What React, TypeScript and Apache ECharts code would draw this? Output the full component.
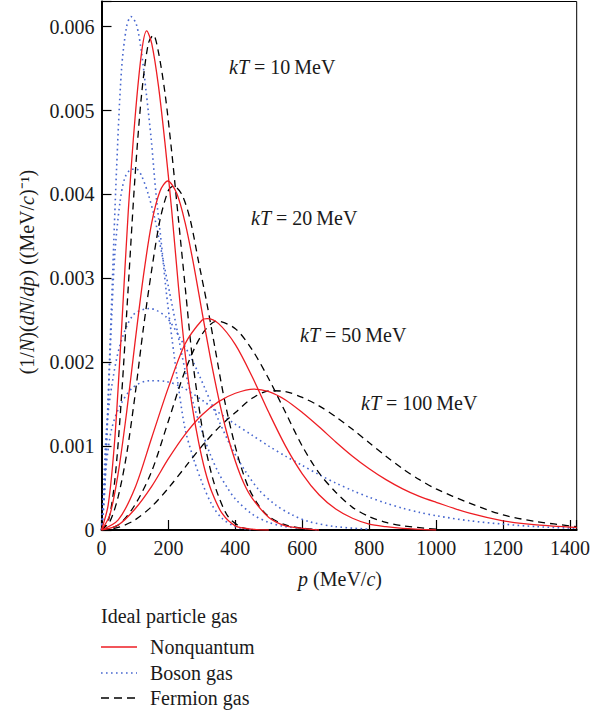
import React, { useEffect, useRef } from "react";
import * as echarts from "echarts";

// ---- data (p in MeV/c, y in (MeV/c)^-1) ----
const xTicks = [0, 200, 400, 600, 800, 1000, 1200, 1400];
const yTicks = [0, 0.001, 0.002, 0.003, 0.004, 0.005, 0.006];

// Nonquantum (red)
const pR10 = [0, 20, 40, 60, 80, 100, 120, 135, 150, 170, 190, 210, 230, 250, 270, 290, 310, 330, 360, 400, 450, 500];
const yR10 = [0, 0.0003, 0.0011, 0.0024, 0.0038, 0.0049, 0.0057, 0.00595, 0.0058, 0.0053, 0.0046, 0.0038, 0.0029, 0.0021, 0.0015, 0.00105, 0.0007, 0.00045, 0.0002, 0.00005, 0.00001, 0];
const pR20 = [0, 25, 50, 75, 100, 125, 150, 175, 198, 225, 250, 275, 300, 325, 350, 375, 400, 425, 450, 500, 550, 600, 650];
const yR20 = [0, 0.00018, 0.00068, 0.0014, 0.00223, 0.00302, 0.00366, 0.00404, 0.00416, 0.00401, 0.00366, 0.00317, 0.00261, 0.00206, 0.00157, 0.00115, 0.00082, 0.00056, 0.00038, 0.00015, 0.00005, 0.00002, 0];
const pR50 = [0, 50, 100, 150, 200, 250, 300, 316, 350, 400, 450, 500, 550, 600, 650, 700, 750, 800, 850, 900, 1000];
const yR50 = [0, 0.00012, 0.0005, 0.0011, 0.0017, 0.00222, 0.0025, 0.00252, 0.00246, 0.00221, 0.00183, 0.0014, 0.001, 0.00067, 0.00042, 0.00025, 0.00014, 0.00007, 0.00004, 0.00002, 0];
const pR100 = [0, 50, 100, 150, 200, 250, 300, 350, 400, 455, 500, 550, 600, 650, 700, 750, 800, 850, 900, 950, 1000, 1100, 1200, 1300, 1420];
const yR100 = [0, 0.00006, 0.00025, 0.00052, 0.00085, 0.00114, 0.00137, 0.00153, 0.00163, 0.00168, 0.00165, 0.00155, 0.0014, 0.00123, 0.00105, 0.00088, 0.00073, 0.0006, 0.00049, 0.0004, 0.00033, 0.0002, 0.00011, 0.00006, 0.00003];

// Boson gas (blue dotted)
const pB10 = [0, 5, 10, 20, 30, 45, 60, 75, 88, 104, 119, 134, 149, 163, 178, 193, 210, 230, 250, 275, 300, 330, 360, 400, 450];
const yB10 = [0, 0.0002, 0.0006, 0.0016, 0.0027, 0.0043, 0.0055, 0.006, 0.00612, 0.00603, 0.00571, 0.0052, 0.00464, 0.004, 0.00345, 0.00286, 0.0023, 0.0017, 0.0012, 0.00085, 0.00057, 0.0003, 0.00014, 0.00004, 0];
const pB20 = [0, 5, 10, 20, 30, 40, 55, 70, 90, 105, 120, 140, 160, 180, 200, 225, 250, 275, 300, 325, 350, 375, 400, 450, 500, 550, 600, 650];
const yB20 = [0, 0.0002, 0.0005, 0.0015, 0.0025, 0.0033, 0.0039, 0.0042, 0.0043, 0.0043, 0.00422, 0.004, 0.0037, 0.0033, 0.0029, 0.0024, 0.0019, 0.0015, 0.00118, 0.0009, 0.00068, 0.00051, 0.00037, 0.00019, 0.00009, 0.00004, 0.00002, 0];
const pB50 = [0, 5, 15, 30, 55, 94, 144, 193, 233, 272, 311, 351, 390, 430, 470, 520, 570, 620, 700, 800];
const yB50 = [0, 0.0004, 0.0012, 0.0017, 0.0022, 0.00256, 0.00264, 0.00254, 0.0023, 0.00202, 0.00167, 0.0013, 0.00097, 0.0007, 0.00048, 0.0003, 0.00018, 0.0001, 0.00004, 0.00001];
const pB100 = [0, 5, 15, 30, 55, 94, 144, 193, 242, 300, 350, 400, 450, 500, 550, 600, 650, 700, 750, 800, 850, 900, 950, 1000, 1100, 1200, 1300, 1420];
const yB100 = [0, 0.0003, 0.0008, 0.0012, 0.00148, 0.0017, 0.00178, 0.00177, 0.0017, 0.00155, 0.0014, 0.00126, 0.00113, 0.001, 0.00088, 0.00077, 0.00066, 0.00056, 0.00047, 0.00039, 0.00032, 0.00026, 0.00021, 0.00017, 0.00011, 0.00007, 0.00004, 0.00002];

// Fermion gas (black dashed)
const pF10 = [0, 20, 40, 60, 80, 100, 120, 140, 155, 170, 190, 210, 230, 250, 270, 290, 310, 330, 350, 380, 420, 470];
const yF10 = [0, 0.0001, 0.0006, 0.0016, 0.0029, 0.0042, 0.0052, 0.0058, 0.0059, 0.0057, 0.0052, 0.0045, 0.0037, 0.0029, 0.0021, 0.0015, 0.001, 0.00065, 0.0004, 0.00015, 0.00003, 0];
const pF20 = [0, 25, 50, 75, 100, 125, 150, 175, 200, 215, 240, 265, 290, 315, 340, 365, 390, 415, 440, 470, 500, 550, 600, 650];
const yF20 = [0, 0.0001, 0.0004, 0.0009, 0.0016, 0.0024, 0.0031, 0.0037, 0.00405, 0.0041, 0.004, 0.0037, 0.0032, 0.0027, 0.00215, 0.0016, 0.00115, 0.00078, 0.0005, 0.00029, 0.00016, 0.00006, 0.00002, 0];
const pF50 = [0, 50, 100, 150, 200, 250, 300, 345, 400, 450, 500, 550, 600, 650, 700, 750, 800, 850, 900, 1000];
const yF50 = [0, 0.00006, 0.0003, 0.0007, 0.0013, 0.0019, 0.00233, 0.00249, 0.0024, 0.00215, 0.0018, 0.0014, 0.001, 0.00068, 0.00045, 0.00027, 0.00016, 0.00009, 0.00005, 0.00001];
const pF100 = [0, 50, 100, 150, 200, 250, 300, 350, 400, 450, 505, 550, 600, 650, 700, 750, 800, 850, 900, 950, 1000, 1100, 1200, 1300, 1420];
const yF100 = [0, 0.00003, 0.00012, 0.00028, 0.0005, 0.00075, 0.001, 0.00122, 0.0014, 0.00157, 0.00166, 0.00165, 0.00158, 0.00148, 0.00135, 0.0012, 0.00104, 0.00088, 0.00073, 0.0006, 0.00049, 0.00032, 0.00018, 0.0001, 0.00004];

const kTLabels = ["10", "20", "50", "100"];

const FONT = '"Liberation Serif", "Times New Roman", serif';
const RED = "#ee1d23";
const BLUE = "#4767cf";
const BLACK = "#000000";

const zip = (xs: number[], ys: number[]) => xs.map((x, i) => [x, ys[i]]);

export default function App() {
  const ref = useRef<HTMLDivElement>(null);
  useEffect(() => {
    if (!ref.current) return;
    const chart = echarts.init(ref.current, undefined, { renderer: "svg" });

    const mk = (name: string, xs: number[], ys: number[], kind: "r" | "b" | "f") => ({
      name,
      type: "line",
      data: zip(xs, ys),
      symbol: "none",
      showSymbol: false,
      smooth: 0.3,
      silent: true,
      lineStyle:
        kind === "r"
          ? { color: RED, width: 1.3 }
          : kind === "b"
          ? { color: BLUE, width: 1.6, type: [1.6, 3.4] }
          : { color: BLACK, width: 1.3, type: [7, 5] },
    });

    const italic = { fontStyle: "italic", fontFamily: FONT, fontSize: 20, fill: "#1a1a1a" };
    const normal = { fontFamily: FONT, fontSize: 20, fill: "#1a1a1a" };

    const kTPos = [
      [229, 67],
      [251, 218],
      [300, 335],
      [361, 403],
    ];

    const graphic: any[] = [];
    kTLabels.forEach((v, i) => {
      graphic.push({
        type: "text",
        x: kTPos[i][0],
        y: kTPos[i][1],
        style: {
          text: `{i|kT} = ${v}\u2009MeV`,
          fontFamily: FONT,
          fontSize: 20,
          fill: "#1a1a1a",
          verticalAlign: "middle",
          align: "left",
          rich: { i: italic },
        },
      });
    });
    // axis titles
    graphic.push({
      type: "text",
      x: 340,
      y: 579,
      style: {
        text: "{i|p} (MeV/{i|c})",
        fontFamily: FONT,
        fontSize: 20,
        fill: "#1a1a1a",
        align: "center",
        verticalAlign: "middle",
        rich: { i: italic },
      },
    });
    graphic.push({
      type: "text",
      x: 27,
      y: 272,
      rotation: Math.PI / 2,
      style: {
        text: "(1/{i|N})({i|dN}/{i|dp}) ((MeV/{i|c})\u207B\u00B9)",
        fontFamily: FONT,
        fontSize: 20,
        fill: "#1a1a1a",
        align: "center",
        verticalAlign: "middle",
        rich: { i: italic },
      },
    });
    // legend
    graphic.push({
      type: "text",
      x: 101,
      y: 616,
      style: { text: "Ideal particle gas", ...normal, verticalAlign: "middle" },
    });
    const leg = [
      { label: "Nonquantum", y: 647, stroke: RED, dash: null as any, w: 1.3 },
      { label: "Boson gas", y: 673, stroke: BLUE, dash: [1.6, 3.4], w: 1.6 },
      { label: "Fermion gas", y: 698, stroke: BLACK, dash: [8, 5], w: 1.3 },
    ];
    leg.forEach((l) => {
      graphic.push({
        type: "line",
        shape: { x1: 101, y1: l.y, x2: 137, y2: l.y },
        style: { stroke: l.stroke, lineWidth: l.w, lineDash: l.dash || undefined },
      });
      graphic.push({
        type: "text",
        x: 150,
        y: l.y,
        style: { text: l.label, ...normal, verticalAlign: "middle" },
      });
    });

    chart.setOption({
      animation: false,
      backgroundColor: "#ffffff",
      grid: {
        left: 101.5,
        right: 13,
        top: 1.5,
        bottom: 187,
        show: true,
        borderColor: "#000",
        borderWidth: 1,
        backgroundColor: "transparent",
      },
      xAxis: {
        type: "value",
        min: 0,
        max: 1420,
        interval: 200,
        axisLine: { show: true, onZero: false, lineStyle: { color: "#000", width: 2 } },
        axisTick: { show: true, inside: true, length: 10, lineStyle: { color: "#000", width: 1.2 } },
        axisLabel: {
          color: "#1a1a1a",
          fontFamily: FONT,
          fontSize: 20,
          margin: 8,
          formatter: (v: number) => (xTicks.indexOf(v) >= 0 ? String(v) : ""),
        },
        splitLine: { show: false },
      },
      yAxis: {
        type: "value",
        min: 0,
        max: 0.0063,
        interval: 0.001,
        axisLine: { show: true, onZero: false, lineStyle: { color: "#000", width: 2 } },
        axisTick: { show: true, inside: true, length: 10, lineStyle: { color: "#000", width: 1.2 } },
        axisLabel: {
          color: "#1a1a1a",
          fontFamily: FONT,
          fontSize: 20,
          margin: 7,
          formatter: (v: number) => {
            const t = yTicks.find((k) => Math.abs(k - v) < 1e-9);
            if (t === undefined) return "";
            return t === 0 ? "0" : t.toFixed(3);
          },
        },
        splitLine: { show: false },
      },
      series: [
        mk("B10", pB10, yB10, "b"),
        mk("B20", pB20, yB20, "b"),
        mk("B50", pB50, yB50, "b"),
        mk("B100", pB100, yB100, "b"),
        mk("F10", pF10, yF10, "f"),
        mk("F20", pF20, yF20, "f"),
        mk("F50", pF50, yF50, "f"),
        mk("F100", pF100, yF100, "f"),
        mk("R10", pR10, yR10, "r"),
        mk("R20", pR20, yR20, "r"),
        mk("R50", pR50, yR50, "r"),
        mk("R100", pR100, yR100, "r"),
      ],
      graphic,
    });
    return () => chart.dispose();
  }, []);
  return <div ref={ref} style={{ width: 593, height: 717, position: "absolute", left: 0, top: 0 }} />;
}
